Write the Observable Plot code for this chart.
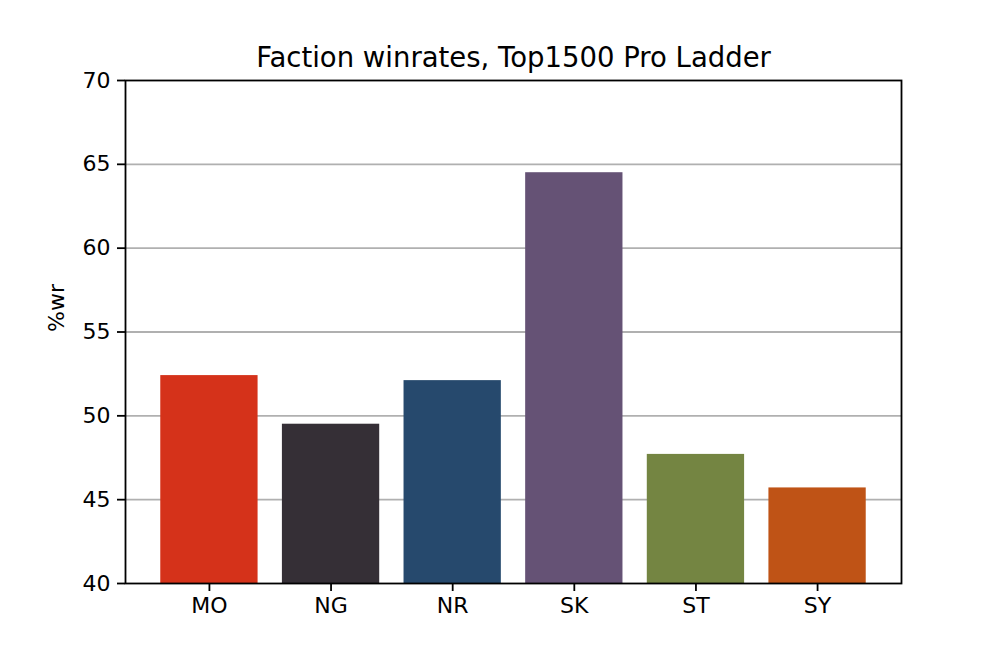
<!DOCTYPE html>
<html>
<head>
<meta charset="utf-8">
<script src="https://cdn.jsdelivr.net/npm/d3@7"></script>
<script src="https://cdn.jsdelivr.net/npm/@observablehq/plot@0.6"></script>
<style>
  html, body { margin: 0; padding: 0; background: #fff; }
  #chart { width: 1000px; height: 666px; }
</style>
</head>
<body>
<div id="chart"></div>
<script>
const factions = ["MO", "NG", "NR", "SK", "ST", "SY"];
const winrates = [52.4, 49.5, 52.1, 64.5, 47.7, 45.7];
const barColors = ["#d5321a", "#352f36", "#26496d", "#655275", "#748542", "#bf5316"];
const yTicks = [40, 45, 50, 55, 60, 65, 70];
const gridTicks = [45, 50, 55, 60, 65];
const titleText = "Faction winrates, Top1500 Pro Ladder";
const yLabel = "%wr";

const data = factions.map((f, i) => ({faction: f, wr: winrates[i], color: barColors[i]}));

const chart = Plot.plot({
  width: 1000,
  height: 666,
  marginTop: 80,
  marginRight: 99,
  marginBottom: 83,
  marginLeft: 125,
  style: {fontFamily: "DejaVu Sans", fontSize: "22px", color: "#000", background: "#fff"},
  x: {domain: factions, paddingInner: 0.2, paddingOuter: 0.29, round: false, label: null},
  y: {domain: [40, 70], label: null},
  marks: [
    Plot.gridY(gridTicks, {stroke: "#b0b0b0", strokeOpacity: 1, strokeWidth: 1.8}),
    Plot.barY(data, {x: "faction", y1: 40, y2: "wr", fill: "color"}),
    Plot.frame({stroke: "#000", strokeWidth: 1.8}),
    Plot.axisY({ticks: yTicks, tickSize: 8, tickPadding: 7, strokeWidth: 1.8, fontSize: 22, label: null}),
    Plot.axisX({tickSize: 8, tickPadding: 6, strokeWidth: 1.8, fontSize: 22, label: null}),
    Plot.text([titleText], {text: d => d, frameAnchor: "top", textAnchor: "middle", lineAnchor: "bottom", dy: -14, fontSize: 27.5, fill: "#000"}),
    Plot.text([yLabel], {text: d => d, frameAnchor: "left", dx: -69, rotate: -90, fontSize: 22, fill: "#000"})
  ]
});
document.getElementById("chart").appendChild(chart);
</script>
</body>
</html>
